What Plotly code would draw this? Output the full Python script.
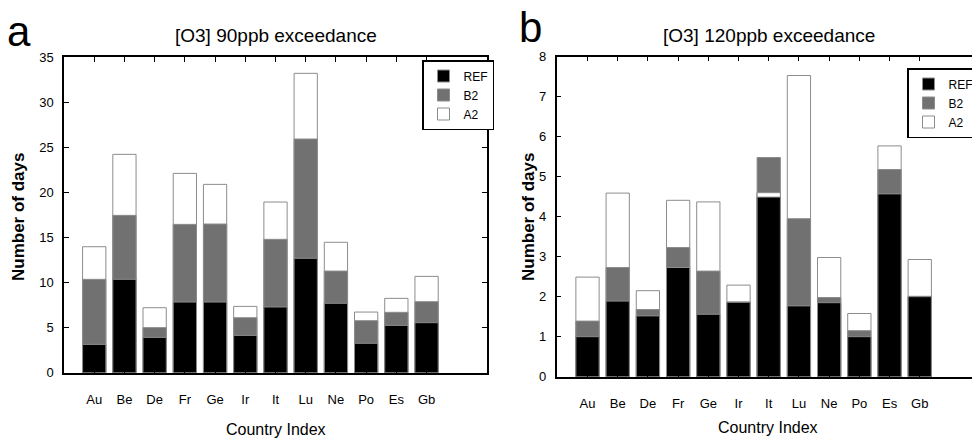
import plotly.graph_objects as go

countries = ["Au", "Be", "De", "Fr", "Ge", "Ir", "It", "Lu", "Ne", "Po", "Es", "Gb"]

# Panel a: [O3] 90ppb exceedance (bar top heights, days)
ref_90 = [3.14, 10.36, 3.92, 7.84, 7.84, 4.14, 7.29, 12.69, 7.70, 3.26, 5.25, 5.55]
b2_90 = [10.36, 17.46, 5.00, 16.46, 16.50, 6.10, 14.80, 25.93, 11.28, 5.77, 6.70, 7.88]
a2_90 = [13.98, 24.23, 7.21, 22.12, 20.90, 7.36, 18.94, 33.22, 14.47, 6.73, 8.25, 10.69]

# Panel b: [O3] 120ppb exceedance
ref_120 = [1.00, 1.89, 1.52, 2.73, 1.56, 1.86, 4.49, 1.77, 1.85, 1.00, 4.57, 2.00]
b2_120 = [1.39, 2.73, 1.68, 3.23, 2.64, 1.87, 5.48, 3.95, 1.98, 1.15, 5.18, 2.01]
a2_120 = [2.49, 4.59, 2.15, 4.41, 4.37, 2.29, 4.60, 7.53, 2.98, 1.58, 5.77, 2.93]

colors = {"REF": "#000000", "B2": "#717171", "A2": "#ffffff"}
ranks = {"REF": 1, "B2": 2, "A2": 3}

FONT = "Liberation Sans, Arial, sans-serif"

fig = go.Figure()


def add_panel(ref, b2, a2, xa, ya, legend):
    a2_low = [a if a < b else None for a, b in zip(a2, b2)]
    layers = [("A2", a2, True), ("B2", b2, True), ("A2", a2_low, False), ("REF", ref, True)]
    for name, vals, show in layers:
        fig.add_trace(go.Bar(
            x=countries, y=vals, name=name, xaxis=xa, yaxis=ya,
            marker=dict(color=colors[name], line=dict(color="#8c8c8c", width=1)),
            width=0.77, opacity=1, showlegend=show, legend=legend,
            legendrank=ranks[name], hoverinfo="skip",
        ))


add_panel(ref_90, b2_90, a2_90, "x", "y", "legend")
add_panel(ref_120, b2_120, a2_120, "x2", "y2", "legend2")

W, H = 972, 438


def px_x(v):
    return v / W


def px_y(v):
    return 1 - v / H


xcommon = dict(
    type="category", categoryorder="array", categoryarray=countries,
    showline=True, linecolor="black", linewidth=1.5, ticks="inside", ticklen=5,
    tickcolor="black", mirror="ticks", showgrid=False, zeroline=False,
    tickfont=dict(family=FONT, size=13, color="#000"), ticklabelstandoff=14,
)
ycommon = dict(
    showline=True, linecolor="black", linewidth=1.5, ticks="inside", ticklen=5,
    tickcolor="black", showgrid=False, zeroline=False,
    tickfont=dict(family=FONT, size=13, color="#000"), ticklabelstandoff=6,
)

legcommon = dict(xanchor="left", yanchor="top", bordercolor="black", borderwidth=1.5,
                 bgcolor="white", font=dict(family=FONT, size=12, color="#000"),
                 tracegroupgap=0, itemwidth=30)

fig.update_layout(
    width=W, height=H, margin=dict(l=0, r=0, t=0, b=0, autoexpand=False),
    paper_bgcolor="white", plot_bgcolor="white", barmode="overlay",
    font=dict(family=FONT, color="#000"),
    xaxis=dict(xcommon, domain=[px_x(64), px_x(487)], anchor="y", range=[-1, 13]),
    yaxis=dict(ycommon, domain=[px_y(372.7), px_y(57.3)], anchor="x", range=[0, 35],
               dtick=5, mirror="ticks"),
    xaxis2=dict(xcommon, domain=[px_x(556.7), 1.0], anchor="y2", range=[-1.02, 12.73]),
    yaxis2=dict(ycommon, domain=[px_y(376.7), px_y(56.7)], anchor="x2", range=[0, 8],
                dtick=1, mirror=False),
    legend=dict(legcommon, x=px_x(422), y=px_y(60)),
    legend2=dict(legcommon, x=px_x(907), y=px_y(68)),
)

annots = [
    dict(text="a", x=px_x(19), y=px_y(31), font=dict(size=42)),
    dict(text="b", x=px_x(530), y=px_y(27), font=dict(size=42)),
    dict(text="[O3] 90ppb exceedance", x=px_x(276), y=px_y(35), font=dict(size=19)),
    dict(text="[O3] 120ppb exceedance", x=px_x(769), y=px_y(35), font=dict(size=19)),
    dict(text="Country Index", x=px_x(276), y=px_y(429), font=dict(size=16)),
    dict(text="Country Index", x=px_x(768), y=px_y(427), font=dict(size=16)),
    dict(text="<b>Number of days</b>", x=px_x(18), y=px_y(217), textangle=-90,
         font=dict(size=17)),
    dict(text="<b>Number of days</b>", x=px_x(528), y=px_y(217), textangle=-90,
         font=dict(size=17)),
]
for a in annots:
    fig.add_annotation(xref="paper", yref="paper", xanchor="center", yanchor="middle",
                       showarrow=False, **a)

fig.write_html("out.html")
